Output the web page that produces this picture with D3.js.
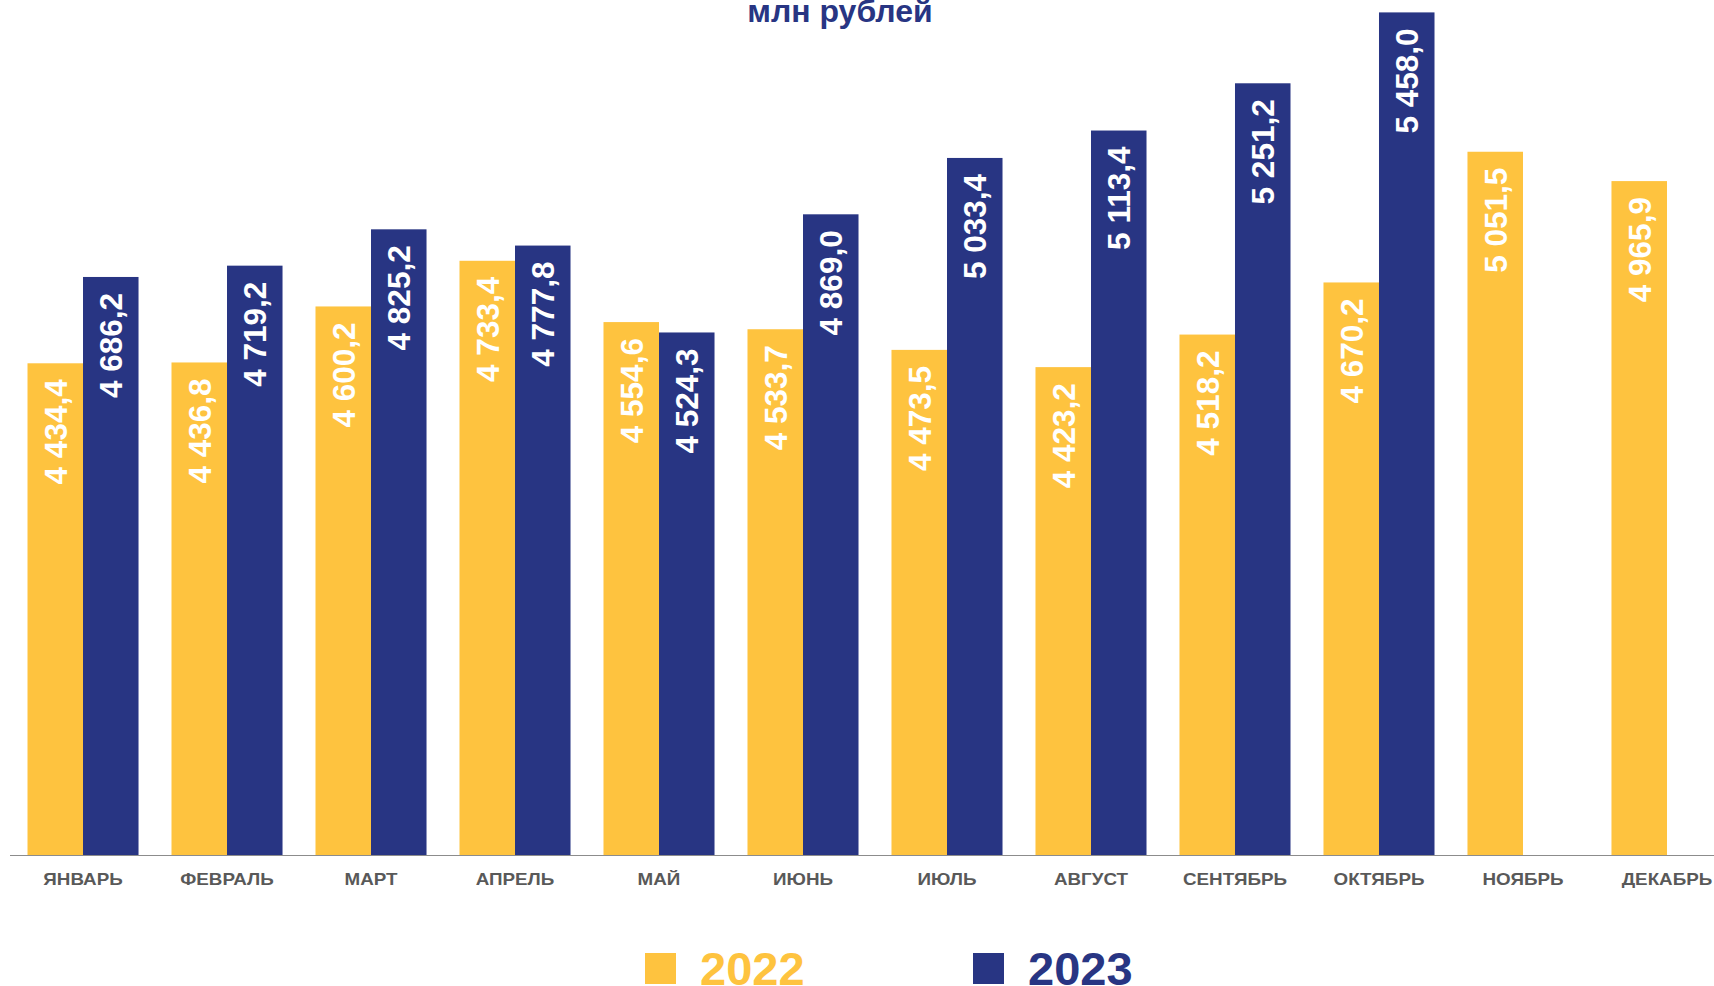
<!DOCTYPE html>
<html>
<head>
<meta charset="utf-8">
<script src="https://cdn.jsdelivr.net/npm/d3@7"></script>
<style>
  body { margin: 0; background: #fff; }
  svg { display: block; font-family: Arial, "Liberation Sans", sans-serif; }
</style>
</head>
<body>
<div id="chart"></div>
<script>
// data
var months = ["ЯНВАРЬ", "ФЕВРАЛЬ", "МАРТ", "АПРЕЛЬ", "МАЙ", "ИЮНЬ", "ИЮЛЬ", "АВГУСТ", "СЕНТЯБРЬ", "ОКТЯБРЬ", "НОЯБРЬ", "ДЕКАБРЬ"];
var years = ["2022", "2023"];
var values2022 = [4434.4, 4436.8, 4600.2, 4733.4, 4554.6, 4533.7, 4473.5, 4423.2, 4518.2, 4670.2, 5051.5, 4965.9];
var values2023 = [4686.2, 4719.2, 4825.2, 4777.8, 4524.3, 4869.0, 5033.4, 5113.4, 5251.2, 5458.0];
var title = "млн рублей";

var colors = {"2022": "#FEC33F", "2023": "#283583"};

var w = 1714, h = 986;
var baseY = 855;

var svg = d3.select("#chart").append("svg")
  .attr("width", w)
  .attr("height", h);

// scales
var x = d3.scaleBand()
  .domain(months)
  .range([11, 11 + 12 * 144])
  .paddingInner(0.229)
  .paddingOuter(0.1146);

var xs = d3.scaleBand()
  .domain(years)
  .range([0, x.bandwidth()]);

var y = d3.scaleLinear()
  .domain([3000, 5500])
  .range([baseY, baseY - 2500 * 0.3428]);

var ru = d3.formatLocale({decimal: ",", thousands: "\u00a0", grouping: [3], currency: ["", ""]});
var fmt = ru.format(",.1f");

// flatten into rows
var rows = [];
months.forEach(function(m, i) {
  if (values2022[i] != null) rows.push({month: m, year: "2022", value: values2022[i]});
  if (values2023[i] != null) rows.push({month: m, year: "2023", value: values2023[i]});
});

// bars
svg.selectAll("rect.bar")
  .data(rows)
  .enter()
  .append("rect")
  .attr("class", "bar")
  .attr("x", function(d) { return x(d.month) + xs(d.year); })
  .attr("y", function(d) { return y(d.value); })
  .attr("width", xs.bandwidth())
  .attr("height", function(d) { return baseY - y(d.value); })
  .attr("fill", function(d) { return colors[d.year]; });

// value labels, rotated inside the top of the bar
svg.selectAll("text.val")
  .data(rows)
  .enter()
  .append("text")
  .attr("class", "val")
  .attr("transform", function(d) {
    var cx = x(d.month) + xs(d.year) + xs.bandwidth() / 2;
    return "translate(" + cx + "," + (y(d.value) + 16) + ") rotate(-90)";
  })
  .attr("text-anchor", "end")
  .attr("dy", "0.36em")
  .attr("font-size", "31.5px")
  .attr("font-weight", "bold")
  .attr("fill", "#fff")
  .text(function(d) { return fmt(d.value); });

// x axis
var xAxis = svg.append("g")
  .attr("transform", "translate(0," + baseY + ")")
  .call(d3.axisBottom(x).tickSize(0).tickPadding(0));
xAxis.select(".domain").remove();
xAxis.append("line")
  .attr("x1", 10).attr("x2", w)
  .attr("y1", 0.5).attr("y2", 0.5)
  .attr("stroke", "#8c8c8c")
  .attr("stroke-width", 1.2);
xAxis.selectAll(".tick text")
  .attr("y", 30)
  .attr("dy", 0)
  .attr("transform", "scale(1.14,1)")
  .attr("font-family", "Arial, 'Liberation Sans', sans-serif")
  .attr("font-size", "16.5px")
  .attr("font-weight", "bold")
  .attr("fill", "#595959");

// title
svg.append("text")
  .attr("x", 840)
  .attr("y", 22)
  .attr("text-anchor", "middle")
  .attr("font-size", "32px")
  .attr("font-weight", "bold")
  .attr("fill", colors["2023"])
  .text(title);

// legend
var legendX = {"2022": 645, "2023": 973};
var legend = svg.selectAll("g.legend")
  .data(years)
  .enter()
  .append("g")
  .attr("class", "legend")
  .attr("transform", function(d) { return "translate(" + legendX[d] + ",953)"; });
legend.append("rect")
  .attr("width", 31)
  .attr("height", 31)
  .attr("fill", function(d) { return colors[d]; });
legend.append("text")
  .attr("x", 55)
  .attr("y", 32)
  .attr("font-size", "47px")
  .attr("font-weight", "bold")
  .attr("fill", function(d) { return colors[d]; })
  .text(function(d) { return d; });
</script>
</body>
</html>
